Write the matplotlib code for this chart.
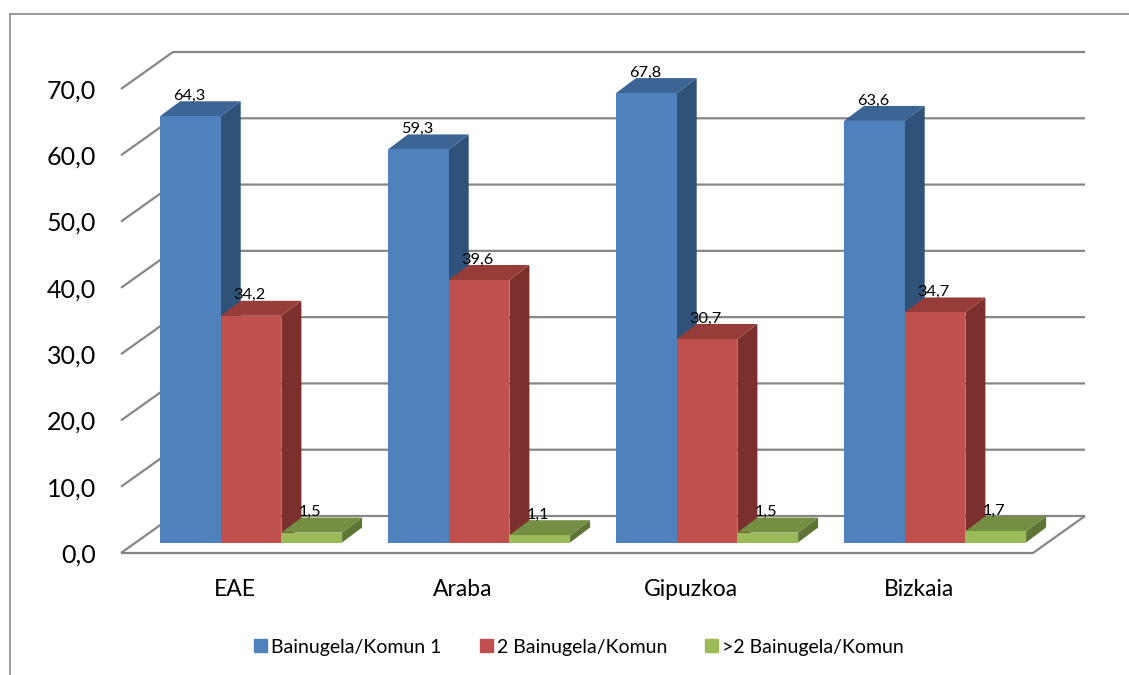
import matplotlib
matplotlib.use("Agg")
import matplotlib.pyplot as plt
from matplotlib.lines import Line2D
from matplotlib.patches import Polygon, Rectangle

categories = ["EAE", "Araba", "Gipuzkoa", "Bizkaia"]
series_names = ["Bainugela/Komun 1", "2 Bainugela/Komun", ">2 Bainugela/Komun"]
comun1 = [64.3, 59.3, 67.8, 63.6]
comun2 = [34.2, 39.6, 30.7, 34.7]
comun3 = [1.5, 1.1, 1.5, 1.7]
y_ticks = [0, 10, 20, 30, 40, 50, 60, 70]

front = ["#4f81bd", "#c0504d", "#9bbb59"]
top = ["#3c6494", "#963d3a", "#748e42"]
side = ["#305278", "#7b302e", "#5f7536"]
grid = "#868686"

W, H = 1129, 675
plt.rcParams["font.family"] = ["Lato", "DejaVu Sans"]

fig = plt.figure(figsize=(W / 100, H / 100), dpi=100)
# axes box is the front plane: x 121-1033 px, y 553 (0) to 89 (70) px
ax = fig.add_axes([121 / W, 1 - 553 / H, 912 / W, 464 / H])
ax.set_xlim(0, 4)
ax.set_ylim(0, 70)
for s in ax.spines.values():
    s.set_visible(False)

px_x = 4 / 912
px_y = 70 / 464
# depth of the floor and depth of the bars, in data units
dx, dy = 52 * px_x, 37 * px_y
bar_dx, bar_dy = 20 * px_x, 15 * px_y
bar_w = 60.7 * px_x
bar_x0 = 39 * px_x
bar_y0 = 10.5 * px_y

# frame of the chart: only left and top are inside the picture
fig.add_artist(Line2D([9.5 / W, 9.5 / W], [0, 1 - 14 / H], color="#8c8c8c", lw=1.2))
fig.add_artist(Line2D([9.5 / W, 1], [1 - 14 / H, 1 - 14 / H], color="#8c8c8c", lw=1.2))

# walls and floor lines
for t in y_ticks:
    ax.plot([0, dx, 4 + dx], [t, t + dy, t + dy], color=grid, lw=1.6, clip_on=False,
            solid_joinstyle="miter", solid_capstyle="butt", zorder=1)
ax.plot([0, 4, 4 + dx], [0, 0, dy], color=grid, lw=1.6, clip_on=False,
        solid_joinstyle="miter", solid_capstyle="butt", zorder=1)

values = [comun1, comun2, comun3]
for i in range(len(categories)):
    for j in range(3):
        v = values[j][i]
        x0 = i + bar_x0 + j * bar_w
        y0 = bar_y0
        y1 = y0 + v
        z = 3 + i * 3 + j * 0.1
        ax.add_patch(Polygon([(x0 + bar_w, y0), (x0 + bar_w + bar_dx, y0 + bar_dy),
                              (x0 + bar_w + bar_dx, y1 + bar_dy), (x0 + bar_w, y1)],
                             facecolor=side[j], edgecolor="none", clip_on=False, zorder=z))
        ax.add_patch(Polygon([(x0, y1), (x0 + bar_w, y1),
                              (x0 + bar_w + bar_dx, y1 + bar_dy), (x0 + bar_dx, y1 + bar_dy)],
                             facecolor=top[j], edgecolor="none", clip_on=False, zorder=z))
        ax.bar(x0, v, bar_w, bottom=y0, align="edge", color=front[j], zorder=z + 0.05)
        ax.text(x0 + 29 * px_x, y1 + 13.5 * px_y, str(v).replace(".", ","), fontsize=11.8,
                ha="center", va="bottom", color="black", zorder=40)

ax.set_yticks(y_ticks)
ax.set_yticklabels([f"{t:.1f}".replace(".", ",") for t in y_ticks], fontsize=18)
ax.set_xticks([i + 0.5 for i in range(4)])
ax.set_xticklabels(categories, fontsize=16.5)
ax.tick_params(axis="both", length=0)
ax.tick_params(axis="y", pad=18)
ax.tick_params(axis="x", pad=18.7)

# legend
handles = [Rectangle((0, 0), 1, 1, color=c) for c in front]
fig.legend(handles, series_names, loc="center", bbox_to_anchor=(579 / W, 1 - 647 / H),
           ncol=3, frameon=False, fontsize=14, handlelength=0.67, handleheight=0.67,
           handletextpad=0.2, columnspacing=1.95)

fig.savefig("out.png", dpi=100)
